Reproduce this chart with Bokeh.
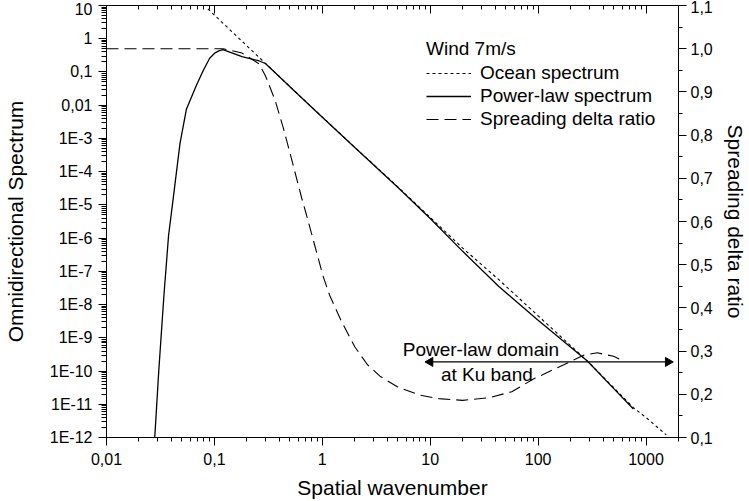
import math
from bokeh.plotting import figure
from bokeh.models import (Range1d, LinearAxis, LogAxis, LinearScale, FixedTicker, LogTicker,
                          SingleIntervalTicker, CustomJSTickFormatter, Legend, LegendItem, Label)
from bokeh.embed import file_html
from bokeh.resources import INLINE

# ---------------- data ----------------
ocean_k = [0.087, 0.15, 0.297, 0.6, 1.0, 2.0, 5.0, 10.0, 20.0, 43.0, 100.0, 286.0, 500.0, 764.0, 1000.0, 1540.0]
ocean_S = [7.9, 1.48, 0.181, 0.0208, 4.4e-3, 5.4e-4, 3.5e-5, 4.2e-6, 5.0e-7, 5.7e-8, 4.6e-9, 2.0e-10, 3.2e-11, 7.9e-12, 4.0e-12, 1.2e-12]

power_k = [0.028, 0.0305, 0.034, 0.0376, 0.042, 0.048, 0.055, 0.068, 0.079, 0.0904, 0.1004, 0.11, 0.12,
           0.18, 0.26, 0.297, 0.6, 1.0, 2.0, 5.0, 10.0, 20.0, 43.0, 100.0, 286.0, 500.0, 764.0]
power_S = [1e-12, 1e-10, 1.75e-8, 1.2e-6, 2.1e-5, 7.1e-4, 7.5e-3, 0.039, 0.113, 0.258, 0.367, 0.43, 0.467,
           0.29, 0.214, 0.18, 0.0205, 4.35e-3, 5.3e-4, 3.4e-5, 3.9e-6, 4.0e-7, 3.55e-8, 3.4e-9, 2.0e-10, 3.0e-11, 7.2e-12]

ratio_k = [0.01, 0.12, 0.18, 0.26, 0.30, 0.366, 0.437, 0.5, 0.643, 0.714, 0.85, 1.015, 1.166, 1.49, 2.0,
           2.61, 3.46, 5.0, 8.0, 12.0, 20.0, 35.0, 57.0, 93.0, 175.0, 267.0, 353.0, 500.0, 620.0]
ratio_R = [1.0, 1.0, 0.99, 0.965, 0.935, 0.88, 0.815, 0.76, 0.655, 0.615, 0.545, 0.474, 0.43, 0.371, 0.31,
           0.269, 0.241, 0.217, 0.198, 0.19, 0.186, 0.192, 0.206, 0.237, 0.269, 0.291, 0.296, 0.288, 0.277]

y_major = [1e-12, 1e-11, 1e-10, 1e-9, 1e-8, 1e-7, 1e-6, 1e-5, 1e-4, 1e-3, 0.01, 0.1, 1.0, 10.0]

arrow_k = [10.0, 1600.0]
arrow_R = [0.275, 0.275]

legend_title = "Wind 7m/s"
series_names = ["Ocean spectrum", "Power-law spectrum", "Spreading delta ratio"]

# ---------------- figure ----------------
FONT = "Arial"

p = figure(width=749, height=501, x_axis_type="log", y_axis_type="log",
           x_range=Range1d(0.01, 2000), y_range=Range1d(1e-12, 10),
           output_backend="svg", toolbar_location=None)
p.extra_y_ranges = {"ratio": Range1d(0.1, 1.1)}
p.extra_y_scales = {"ratio": LinearScale()}
p.grid.visible = False
p.outline_line_color = None

y_minor = [m * 10.0 ** e for e in range(-12, 1) for m in range(2, 10)]

x_fmt = CustomJSTickFormatter(code="""
const e = Math.round(Math.log10(tick));
if (e < 0) return "0," + "0".repeat(-e - 1) + "1";
return String(Math.round(Math.pow(10, e)));
""")
y_fmt = CustomJSTickFormatter(code="""
const e = Math.round(Math.log10(tick));
if (e >= 0) return String(Math.round(Math.pow(10, e)));
if (e >= -2) return "0," + "0".repeat(-e - 1) + "1";
return "1E" + e;
""")
r_fmt = CustomJSTickFormatter(code="""return tick.toFixed(1).replace(".", ",");""")


def style(ax):
    ax.axis_line_color = "black"
    ax.axis_line_width = 1
    ax.major_tick_line_color = "black"
    ax.minor_tick_line_color = "black"
    ax.major_tick_line_width = 1
    ax.minor_tick_line_width = 1
    ax.major_label_text_font = FONT
    ax.major_label_text_font_size = "16px"
    ax.major_label_text_color = "black"
    ax.axis_label_text_font = FONT
    ax.axis_label_text_font_size = "21px"
    ax.axis_label_text_font_style = "normal"
    ax.axis_label_text_color = "black"


xa = p.xaxis[0]
style(xa)
xa.ticker = LogTicker(desired_num_ticks=8, num_minor_ticks=10)
xa.formatter = x_fmt
xa.major_tick_out = 8
xa.major_tick_in = 0
xa.minor_tick_out = 4
xa.minor_tick_in = 0
xa.major_label_standoff = 7
xa.axis_label = "Spatial wavenumber"
xa.axis_label_standoff = 8

ya = p.yaxis[0]
style(ya)
ya.ticker = FixedTicker(ticks=y_major, minor_ticks=y_minor)
ya.formatter = y_fmt
ya.major_tick_out = 8
ya.major_tick_in = 0
ya.minor_tick_out = 5
ya.minor_tick_in = 0
ya.major_label_standoff = 6
ya.axis_label = "Omnidirectional Spectrum"
ya.axis_label_standoff = 20

top = LogAxis()
style(top)
top.ticker = LogTicker(desired_num_ticks=8, num_minor_ticks=10)
top.formatter = x_fmt
top.major_label_text_font_size = "1px"
top.major_label_text_color = None
top.major_tick_in = 8
top.major_tick_out = 0
top.minor_tick_in = 4
top.minor_tick_out = 0
top.major_label_standoff = 14
p.add_layout(top, "above")

ra = LinearAxis(y_range_name="ratio")
style(ra)
ra.ticker = SingleIntervalTicker(interval=0.1, num_minor_ticks=2)
ra.formatter = r_fmt
ra.major_tick_out = 8
ra.major_tick_in = 0
ra.minor_tick_out = 4
ra.minor_tick_in = 0
ra.major_label_standoff = 4
ra.axis_label = "Spreading delta ratio"
ra.axis_label_standoff = 8
p.add_layout(ra, "right")

# ---------------- series ----------------
r_ocean = p.line(ocean_k, ocean_S, line_color="black", line_width=1.1, line_dash="3 3")
r_power = p.line(power_k, power_S, line_color="black", line_width=1.3)
r_ratio = p.line(ratio_k, ratio_R, line_color="black", line_width=1.1, line_dash="12 6",
                 y_range_name="ratio")

legend = Legend(items=[LegendItem(label=series_names[0], renderers=[r_ocean]),
                       LegendItem(label=series_names[1], renderers=[r_power]),
                       LegendItem(label=series_names[2], renderers=[r_ratio])],
                location=(320, 307))
legend.title = legend_title
legend.title_text_font = FONT
legend.title_text_font_size = "19px"
legend.title_text_font_style = "normal"
legend.title_text_color = "black"
legend.title_standoff = 2
legend.label_text_font = FONT
legend.label_text_font_size = "19px"
legend.label_text_color = "black"
legend.label_standoff = 9
legend.glyph_width = 45
legend.glyph_height = 20
legend.label_height = 20
legend.spacing = 1
legend.padding = 0
legend.margin = 0
legend.border_line_color = None
legend.background_fill_alpha = 0
p.add_layout(legend)

# ---------------- annotation: double arrow ----------------
p.line(arrow_k, arrow_R, line_color="black", line_width=1.3, y_range_name="ratio")
p.scatter(arrow_k, arrow_R, marker="triangle", size=9,
          angle=[math.pi / 2, -math.pi / 2], fill_color="black", line_color="black",
          y_range_name="ratio")
p.add_layout(Label(x=29.5, y=0.303, y_range_name="ratio", text="Power-law domain",
                   text_align="center", text_baseline="middle",
                   text_font=FONT, text_font_size="19px", text_color="black"))
p.add_layout(Label(x=33.5, y=0.2466, y_range_name="ratio", text="at Ku band",
                   text_align="center", text_baseline="middle",
                   text_font=FONT, text_font_size="19px", text_color="black"))

open("out.html", "w").write(file_html(p, INLINE))
